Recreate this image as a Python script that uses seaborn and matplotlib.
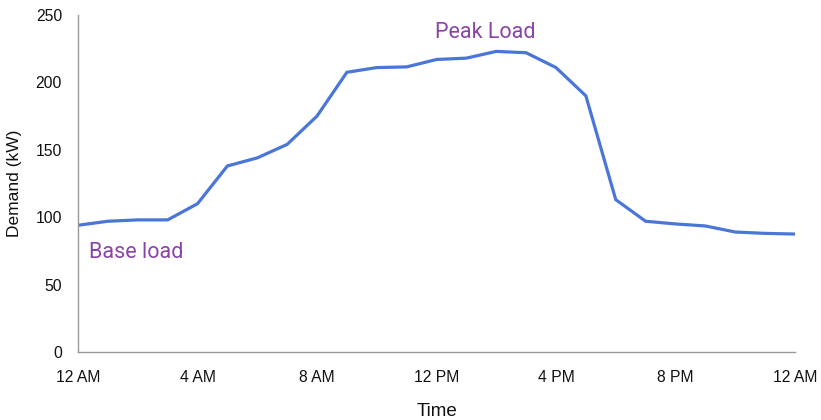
import matplotlib
matplotlib.use("Agg")
import matplotlib.pyplot as plt
from matplotlib import font_manager
import numpy as np
import pandas as pd
import seaborn as sns

# Hourly electricity demand over one day (hour 0 = 12 AM, hour 24 = next 12 AM)
hours = list(range(25))
demand_kw = [94, 97, 98, 98, 110, 138, 144, 154, 175, 207.5, 211, 211.5, 217,
             218, 223, 222, 211, 190, 113, 97, 95, 93.5, 89, 88, 87.5]
tick_hours = [0, 4, 8, 12, 16, 20, 24]
tick_labels = ["12 AM", "4 AM", "8 AM", "12 PM", "4 PM", "8 PM", "12 AM"]
y_ticks = [0, 50, 100, 150, 200, 250]

df = pd.DataFrame({"hour": hours, "demand": demand_kw})

sns.set_theme(style="white")
plt.rcParams["font.family"] = ["Liberation Sans", "DejaVu Sans"]

names = {f.name for f in font_manager.fontManager.ttflist}
narrow = "Liberation Sans Narrow" if "Liberation Sans Narrow" in names else "Roboto"

fig = plt.figure(figsize=(8.21, 4.20), dpi=100)
ax = fig.add_axes([78 / 821, 68 / 420, 717 / 821, 337 / 420])

sns.lineplot(data=df, x="hour", y="demand", ax=ax, color="#4a76d8",
             linewidth=2.3, solid_joinstyle="miter")

ax.set_xlim(0, 24)
ax.set_ylim(0, 250)
ax.set_xticks(tick_hours)
ax.set_xticklabels(tick_labels)
ax.set_yticks(y_ticks)
ax.tick_params(axis="both", length=0, labelsize=11.3, colors="#111111")
ax.tick_params(axis="x", pad=13)
ax.tick_params(axis="y", pad=11.5)

for side in ("top", "right"):
    ax.spines[side].set_visible(False)
for side in ("left", "bottom"):
    ax.spines[side].set_color("#999999")
    ax.spines[side].set_linewidth(1.0)

ax.set_xlabel("Time", fontsize=13.5, labelpad=13, color="#111111")
ax.set_ylabel("Demand (kW)", fontsize=12.5, labelpad=10, color="#111111")

purple = "#8a44a8"
ax.text(0.37, 73.5, "Base load", fontsize=15.5, color=purple, family=narrow,
        va="center", ha="left")
ax.text(11.95, 237, "Peak Load", fontsize=15.5, color=purple, family=narrow,
        va="center", ha="left")

fig.savefig("out.png", dpi=100)
